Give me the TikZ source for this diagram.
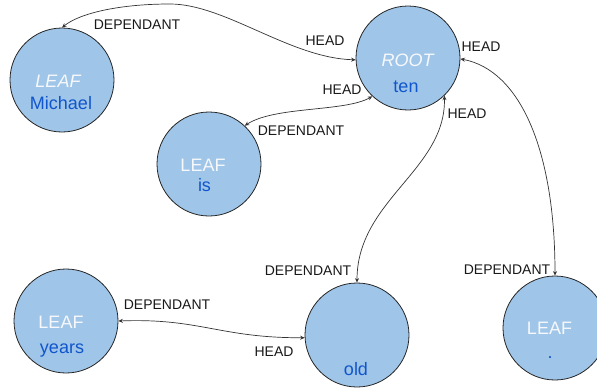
\documentclass[tikz,border=0pt]{standalone}
\usepackage{fontspec}
\setmainfont{Liberation Sans}
\usetikzlibrary{arrows.meta}
\definecolor{nodefill}{HTML}{9FC5E8}
\definecolor{wordblue}{HTML}{1155CC}
\definecolor{edgegray}{HTML}{333333}
\definecolor{kindwhite}{HTML}{F6F8FB}
\begin{document}
\begin{tikzpicture}[x=1pt,y=-1pt,
  tok/.style={circle,draw=black!85,line width=0.8pt,fill=nodefill,minimum size=104pt,inner sep=0pt},
  kind/.style={text=kindwhite,font=\fontsize{18}{18}\selectfont,anchor=base,inner sep=0pt},
  word/.style={text=wordblue,font=\fontsize{18}{18}\selectfont,anchor=base,inner sep=0pt},
  rel/.style={font=\fontsize{14}{14}\selectfont,text=black!90,inner sep=0pt},
  link/.style={draw=edgegray,line width=0.7pt,{Stealth[length=4.5pt,width=4pt]}-{Stealth[length=4.5pt,width=4pt]}}]
\useasboundingbox (0,0) rectangle (597,388);
\clip (0,0) rectangle (597,388);

% token circles
\node[tok] (mich) at (62,80) {};
\node[tok] (root) at (408,58) {};
\node[tok] (is) at (209,164) {};
\node[tok] (years) at (66,321) {};
\node[tok] (old) at (357,335) {};
\node[tok] (dot) at (555,328) {};

% texts inside circles
\node[kind] (michk) at (58,87.5) {\itshape LEAF};
\node[word] (michw) at (61,109.5) {Michael};
\node[kind] (rootk) at (407.5,66) {\itshape ROOT};
\node[word] (rootw) at (406,92) {ten};
\node[kind] (isk) at (203,171) {LEAF};
\node[word] (isw) at (204.5,191) {is};
\node[kind] (yearsk) at (61,328) {LEAF};
\node[word] (yearsw) at (62,353) {years};
\node[word] (oldw) at (356,375) {old};
\node[kind] (dotk) at (549.5,334) {LEAF};
\node[word] (dotw) at (550,358) {.};

% connectors
\draw[link] (mich.north) .. controls (80,13) and (120,4) .. (170,4)
  .. controls (225,4) and (290,58) .. (root.182);
\draw[link] (root.227) .. controls (345,112) and (275,106) .. (is.47);
\draw[link] (root.314) .. controls (446,170) and (357,200) .. (old.north);
\draw[link] (root.359) .. controls (520,70) and (555,150) .. (dot.north);
\draw[link] (years.east) .. controls (200,318) and (220,338) .. (old.183);

% relation labels
\node[rel] (l1a) at (137,25) {DEPENDANT};
\node[rel] (l1b) at (325,41) {HEAD};
\node[rel] (l2a) at (342,90) {HEAD};
\node[rel] (l2b) at (301,131) {DEPENDANT};
\node[rel] (l3a) at (467,114) {HEAD};
\node[rel] (l3b) at (308,271) {DEPENDANT};
\node[rel] (l4a) at (481,47) {HEAD};
\node[rel] (l4b) at (507,270) {DEPENDANT};
\node[rel] (l5a) at (167,305) {DEPENDANT};
\node[rel] (l5b) at (274,352) {HEAD};
\end{tikzpicture}
\end{document}
